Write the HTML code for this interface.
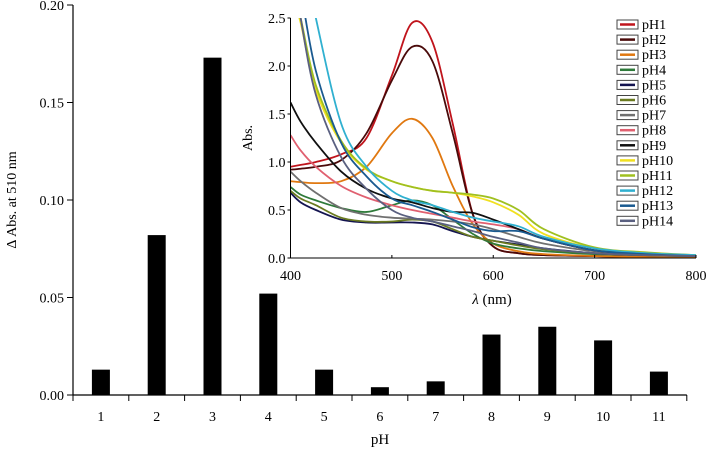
<!DOCTYPE html>
<html><head><meta charset="utf-8"><style>
body{margin:0;background:#fff;}
svg{display:block;font-family:"Liberation Serif",serif;}
</style></head><body>
<svg id="c" width="706" height="449"></svg>
<script>
const categories=["1","2","3","4","5","6","7","8","9","10","11"];
const deltaAbs=[0.013,0.082,0.173,0.052,0.013,0.004,0.007,0.031,0.035,0.028,0.012];
const yTicks=[0,0.05,0.10,0.15,0.20];
const yTickLabels=["0.00","0.05","0.10","0.15","0.20"];
const wl=[400,410,425,450,475,500,520,540,560,580,600,625,650,700,750,800];
const seriesNames=["pH1","pH2","pH3","pH4","pH5","pH6","pH7","pH8","pH9","pH10","pH11","pH12","pH13","pH14"];
const seriesColors=["#c0141c","#4a0a0a","#e07810","#2e7a3a","#141450","#6a7a20","#707070","#e06070","#101010","#f0e020","#a0c020","#30b0d0","#1a5a90","#5a6080"];
const pH1=[0.95,0.97,1.0,1.08,1.25,1.9,2.45,2.25,1.4,0.45,0.12,0.05,0.03,0.02,0.01,0.01];
const pH2=[0.92,0.93,0.95,1.02,1.3,1.85,2.2,2.05,1.3,0.45,0.12,0.05,0.03,0.02,0.01,0.01];
const pH3=[0.8,0.79,0.78,0.8,0.95,1.3,1.45,1.25,0.75,0.35,0.15,0.07,0.04,0.02,0.01,0.01];
const pH4=[0.74,0.66,0.6,0.52,0.48,0.55,0.6,0.55,0.4,0.25,0.15,0.1,0.07,0.04,0.03,0.02];
const pH5=[0.68,0.58,0.5,0.4,0.37,0.37,0.37,0.35,0.28,0.22,0.18,0.14,0.1,0.05,0.03,0.02];
const pH6=[0.7,0.62,0.55,0.42,0.38,0.38,0.4,0.38,0.3,0.22,0.18,0.13,0.09,0.05,0.03,0.02];
const pH7=[0.9,0.8,0.68,0.52,0.45,0.42,0.41,0.4,0.38,0.35,0.3,0.22,0.15,0.07,0.04,0.02];
const pH8=[1.28,1.12,0.95,0.75,0.63,0.55,0.5,0.46,0.42,0.38,0.35,0.3,0.2,0.08,0.04,0.02];
const pH9=[1.62,1.42,1.2,0.9,0.72,0.62,0.58,0.52,0.48,0.47,0.4,0.3,0.2,0.08,0.04,0.02];
const pH10=[2.8,2.45,1.75,1.2,0.92,0.8,0.74,0.7,0.68,0.64,0.58,0.45,0.25,0.1,0.05,0.03];
const pH11=[2.9,2.5,1.8,1.22,0.93,0.8,0.74,0.7,0.68,0.66,0.62,0.5,0.3,0.11,0.06,0.03];
const pH12=[4.0,3.3,2.5,1.4,0.95,0.7,0.6,0.55,0.48,0.42,0.38,0.33,0.22,0.1,0.05,0.03];
const pH13=[3.4,2.8,1.95,1.2,0.85,0.62,0.55,0.48,0.4,0.32,0.28,0.28,0.2,0.08,0.04,0.02];
const pH14=[3.2,2.5,1.7,1.05,0.72,0.5,0.42,0.38,0.33,0.28,0.22,0.16,0.1,0.05,0.03,0.02];
const series=[pH1,pH2,pH3,pH4,pH5,pH6,pH7,pH8,pH9,pH10,pH11,pH12,pH13,pH14];
const insetXTicks=[400,500,600,700,800];
const insetYTicks=[0,0.5,1.0,1.5,2.0,2.5];

const NS="http://www.w3.org/2000/svg";
const svg=document.getElementById('c');
function mk(t,a,p){const e=document.createElementNS(NS,t);for(const k in a)e.setAttribute(k,a[k]);(p||svg).appendChild(e);return e;}
const X0=73,Y0=395,Y1=5,step=55.8,YMAX=0.2;
const ys=v=>Y0-(v/YMAX)*(Y0-Y1);
const xc=i=>X0+step*(i+0.5);
let ax=mk('line',{x1:X0,y1:Y1,x2:X0,y2:Y0,stroke:'#000','stroke-width':1.2});

ax=mk('line',{x1:X0,y1:Y0,x2:X0+step*categories.length,y2:Y0,stroke:'#000','stroke-width':1.2});

yTicks.forEach((v,i)=>{
  mk('line',{x1:X0-6,y1:ys(v),x2:X0,y2:ys(v),stroke:'#000'});
  const t=mk('text',{x:X0-9,y:ys(v)+5,'text-anchor':'end','font-size':14});t.textContent=yTickLabels[i];
  
});
for(let i=0;i<=categories.length;i++)mk('line',{x1:X0+step*i,y1:Y0,x2:X0+step*i,y2:Y0+6,stroke:'#000'});
categories.forEach((c,i)=>{
  const b=mk('rect',{x:xc(i)-9,y:ys(deltaAbs[i]),width:18,height:Y0-ys(deltaAbs[i]),fill:'#000'});
  
  const t=mk('text',{x:xc(i),y:421,'text-anchor':'middle','font-size':14});t.textContent=c;
  
});
let t=mk('text',{x:380,y:444,'text-anchor':'middle','font-size':15});t.textContent='pH';

t=mk('text',{transform:'translate(16,200) rotate(-90)','text-anchor':'middle','font-size':14});t.textContent='Δ Abs. at 510 nm';


const g=mk('g',{});
const IX0=290.5,IX1=696,IY0=258,IY1=18;
const ix=w=>IX0+(w-400)/400*(IX1-IX0);
const iy=v=>IY0-v/2.5*(IY0-IY1);
mk('defs',{}).innerHTML='<clipPath id="cp"><rect x="'+IX0+'" y="'+IY1+'" width="'+(IX1-IX0+1)+'" height="'+(IY0-IY1)+'"/></clipPath>';
const cg=mk('g',{'clip-path':'url(#cp)'},g);
series.forEach((s,k)=>{
  const pts=wl.map((w,i)=>[ix(w),iy(s[i])]);
  let d='M'+pts[0][0]+','+pts[0][1];
  for(let i=0;i<pts.length-1;i++){
    const p0=pts[Math.max(i-1,0)],p1=pts[i],p2=pts[i+1],p3=pts[Math.min(i+2,pts.length-1)];
    d+=' C'+(p1[0]+(p2[0]-p0[0])/6)+','+(p1[1]+(p2[1]-p0[1])/6)+' '+(p2[0]-(p3[0]-p1[0])/6)+','+(p2[1]-(p3[1]-p1[1])/6)+' '+p2[0]+','+p2[1];
  }
  const p=mk('path',{d:d,fill:'none',stroke:seriesColors[k],'stroke-width':1.8},cg);
  
});
mk('line',{x1:IX0,y1:IY1,x2:IX0,y2:IY0,stroke:'#000'},g);
mk('line',{x1:IX0,y1:IY0,x2:IX1,y2:IY0,stroke:'#000'},g);
insetYTicks.forEach(v=>{
  mk('line',{x1:IX0-3,y1:iy(v),x2:IX0,y2:iy(v),stroke:'#000'},g);
  const tt=mk('text',{x:IX0-5,y:iy(v)+5,'text-anchor':'end','font-size':14},g);tt.textContent=v.toFixed(1);
  
});
insetXTicks.forEach(v=>{
  mk('line',{x1:ix(v),y1:IY0,x2:ix(v),y2:IY0-3,stroke:'#000'},g);
  const tt=mk('text',{x:ix(v),y:280,'text-anchor':'middle','font-size':14},g);tt.textContent=v;
  
});
t=mk('text',{x:492,y:304,'text-anchor':'middle','font-size':15},g);t.innerHTML='<tspan font-style="italic">λ</tspan> (nm)';

t=mk('text',{transform:'translate(252,138) rotate(-90)','text-anchor':'middle','font-size':14},g);t.textContent='Abs.';

seriesNames.forEach((n,k)=>{
  const y=24+k*15.1;
  const le=mk('g',{},g);
  
  mk('rect',{x:617,y:y-4,width:21,height:9,fill:'#fff',stroke:'#444','stroke-width':1},le);
  mk('line',{x1:620,y1:y+0.5,x2:635,y2:y+0.5,stroke:seriesColors[k],'stroke-width':2.5},le);
  const tt=mk('text',{x:642,y:y+5,'font-size':14},le);tt.textContent=n;
});
</script>
</body></html>
